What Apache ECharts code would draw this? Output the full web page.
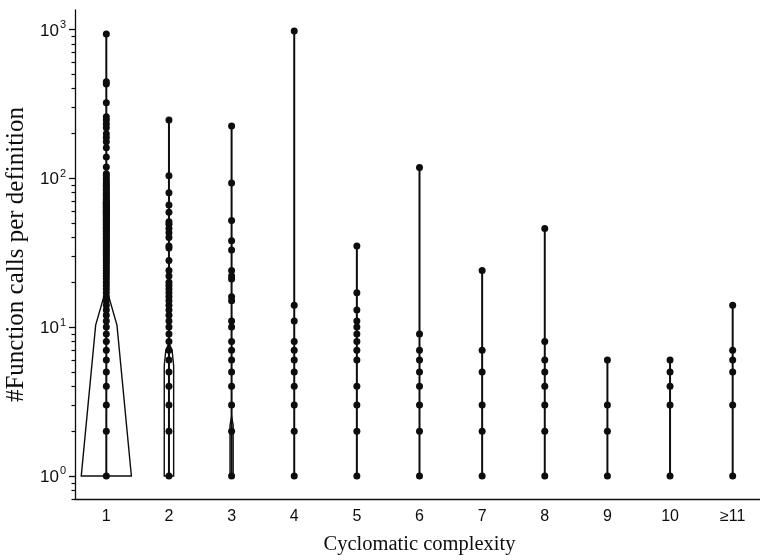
<!DOCTYPE html>
<html>
<head>
<meta charset="utf-8">
<script src="https://cdn.jsdelivr.net/npm/echarts@6/dist/echarts.min.js"></script>
<style>html,body{margin:0;padding:0;background:#fff}#c{width:760px;height:560px}</style>
</head>
<body>
<div id="c"></div>
<script>
// ---- data ----
const categories = ['1','2','3','4','5','6','7','8','9','10','≥11'];

const calls_cc1 = [1,2,3,4,5,6,7,8,9,10,11,12,13,14,15,16,17,18,19,20,21,22,23,24,25,26,27,28,29,30,31,32,33,34,35,36,37,38,39,40,41,42,43,44,45,46,47,48,49,50,51,52,53,54,55,56,57,58,59,60,61,62,63,64,65,66,67,68,69,70,72,74,76,78,80,83,85,88,90,93,96,100,104,107,119,139,160,176,188,199,218,231,246,259,321,429,444,930];
const calls_cc2 = [1,2,3,4,5,6,7,8,9,10,11,12,13,14,15,16,17,18,19,20,22,24,28,34,35,40,43,46,49,51,59,66,80,104,246];
const calls_cc3 = [1,2,3,4,5,6,7,8,10,11,15,16,21,22,24,33,38,52,93,224];
const calls_cc4 = [1,2,3,4,5,6,7,8,11,14,973];
const calls_cc5 = [1,2,3,4,6,7,8,9,10,11,13,17,35];
const calls_cc6 = [1,2,3,4,5,6,7,9,118];
const calls_cc7 = [1,2,3,5,7,24];
const calls_cc8 = [1,2,3,4,5,6,8,46];
const calls_cc9 = [1,2,3,6];
const calls_cc10 = [1,3,4,5,6];
const calls_cc11 = [1,3,5,6,7,14];

// violin outlines: [value, half width in category units]
const violin_cc1 = [[1,0.40],[10.3,0.17],[18.3,0]];
const violin_cc2 = [[1,0.075],[5.5,0.075],[7,0.05],[7.8,0]];
const violin_cc3 = [[1,0.025],[2.2,0.025],[2.5,0]];

const majorTicks = [1,10,100,1000];
const minorTicks = [0.7,0.8,0.9,2,3,4,5,6,7,8,9,20,30,40,50,60,70,80,90,200,300,400,500,600,700,800,900];

const yMin = 0.7, yMax = 1349;

// ---- build ----
const allCalls = [calls_cc1,calls_cc2,calls_cc3,calls_cc4,calls_cc5,calls_cc6,calls_cc7,calls_cc8,calls_cc9,calls_cc10,calls_cc11];
const violins = [{cat:0, shape:violin_cc1},{cat:1, shape:violin_cc2},{cat:2, shape:violin_cc3}];

const pointData = [];
const rangeData = [];
allCalls.forEach((arr,i)=>{
  arr.forEach(v=>pointData.push([i,v]));
  rangeData.push([i, Math.min.apply(null,arr), Math.max.apply(null,arr)]);
});

const INK = '#0d0d0d';
const sans = 'Liberation Sans';
const serif = 'Liberation Serif';

const chart = echarts.init(document.getElementById('c'), null, {renderer:'canvas'});
chart.setOption({
  animation:false,
  backgroundColor:'#fff',
  grid:{left:75, top:10, bottom:61, width:689, containLabel:false, outerBoundsMode:'none'},
  xAxis:{
    type:'category', data:categories, boundaryGap:true,
    name:'Cyclomatic complexity', nameLocation:'middle', nameGap:35,
    nameTextStyle:{fontFamily:serif, fontSize:20.5, color:INK},
    axisLine:{lineStyle:{color:INK, width:1.3}},
    axisTick:{alignWithLabel:true, length:5, lineStyle:{color:INK, width:1.3}},
    axisLabel:{fontFamily:sans, fontSize:16, color:INK, margin:10},
    splitLine:{show:false}
  },
  yAxis:[{
    type:'log', logBase:10, min:yMin, max:yMax,
    name:'#Function calls per definition', nameLocation:'middle', nameGap:39,
    nameTextStyle:{fontFamily:serif, fontSize:25, color:INK},
    axisLine:{show:true, lineStyle:{color:INK, width:1.3}},
    axisTick:{show:true, length:6, customValues:majorTicks, lineStyle:{color:INK, width:1.3}},
    axisLabel:{
      customValues:majorTicks, margin:9,
      formatter:function(v){ return '{b|10}{s|' + Math.round(Math.log10(v)) + '}'; },
      rich:{
        b:{fontFamily:sans, fontSize:17, color:INK, lineHeight:20, verticalAlign:'bottom'},
        s:{fontFamily:sans, fontSize:11, color:INK, verticalAlign:'top', padding:[0,0,0,1]}
      }
    },
    splitLine:{show:false}
  },{
    type:'log', logBase:10, min:yMin, max:yMax, position:'left',
    axisLine:{show:false},
    axisTick:{show:true, length:3.5, customValues:minorTicks, lineStyle:{color:INK, width:1.2}},
    axisLabel:{show:false},
    splitLine:{show:false}
  }],
  series:[
    {
      type:'custom', z:1, silent:true,
      data:violins.map(o=>[o.cat]),
      encode:{x:0},
      renderItem:function(params, api){
        const o = violins[params.dataIndex];
        const bw = params.coordSys.width / categories.length;
        const left = [], right = [];
        o.shape.forEach(function(p){
          const c = api.coord([o.cat, p[0]]);
          left.push([c[0] - p[1]*bw, c[1]]);
          right.unshift([c[0] + p[1]*bw, c[1]]);
        });
        return {type:'polygon', shape:{points:left.concat(right)}, style:{fill:null, stroke:INK, lineWidth:1.4}};
      }
    },
    {
      type:'custom', z:2, silent:true,
      data:rangeData,
      encode:{x:0, y:[1,2]},
      renderItem:function(params, api){
        const p1 = api.coord([api.value(0), api.value(1)]);
        const p2 = api.coord([api.value(0), api.value(2)]);
        return {type:'line', shape:{x1:p1[0], y1:p1[1], x2:p2[0], y2:p2[1]}, style:{stroke:INK, lineWidth:2}};
      }
    },
    {
      type:'scatter', z:3, silent:true,
      data:pointData, symbol:'circle', symbolSize:7,
      itemStyle:{color:INK, opacity:1}
    }
  ]
});
</script>
</body>
</html>
